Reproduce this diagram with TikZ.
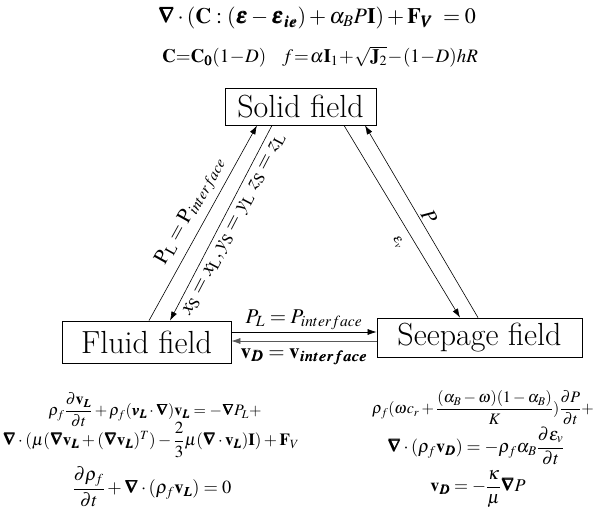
\documentclass[tikz,border=0pt]{standalone}
\usepackage{amsmath}
\usepackage{mathptmx}
\usepackage{bm}
\usetikzlibrary{arrows.meta,positioning,calc}

\begin{document}
\begin{tikzpicture}[x=1pt,y=1pt,
  field/.style={draw,line width=0.8pt,inner sep=0pt,font=\fontsize{32}{34}\selectfont},
  link/.style={-{Latex[length=9pt,width=6pt]},line width=0.6pt},
  lbl/.style={font=\fontsize{21}{24}\selectfont,inner sep=2pt},
  eqn/.style={font=\fontsize{22}{26}\selectfont,inner sep=0pt},
  eqs/.style={font=\fontsize{16}{19}\selectfont,inner sep=0pt}]
  \useasboundingbox (0,0) rectangle (605,-521);
  % field boxes
  \node[field,minimum width=151pt,minimum height=37pt] (solid) at (300.5,-106.5) {Solid field};
  \node[field,minimum width=169pt,minimum height=42pt] (fluid) at (146.5,-342) {Fluid field};
  \node[field,minimum width=205pt,minimum height=39pt] (seep) at (479.5,-337.5) {Seepage field};
  % fluid <-> solid
  \draw[link] ([xshift=2.5pt]fluid.north) -- ([xshift=-43.5pt]solid.south)
    node[lbl,pos=0.52,sloped,above=4pt] {$\mathrm{P_L} = \mathrm{P}_{interface}$};
  \draw[link] ([xshift=-28.5pt]solid.south) -- ([xshift=23.5pt]fluid.north)
    node[lbl,pos=0.48,sloped,below=4pt] {$x_\mathrm{S} = x_\mathrm{L}, y_\mathrm{S} = y_\mathrm{L}\ z_\mathrm{S} = z_\mathrm{L}$};
  % solid <-> seepage
  \draw[link] ([xshift=43.5pt]solid.south) -- ([xshift=-19.5pt]seep.north)
    node[font=\fontsize{14}{16}\selectfont,pos=0.57,sloped,below=6pt] {$\varepsilon_v$};
  \draw[link] ([xshift=-1.5pt]seep.north) -- ([xshift=64.5pt]solid.south)
    node[lbl,midway,sloped,above] {$P$};
  % fluid <-> seepage
  \draw[link] ([yshift=10pt]fluid.east) -- ([yshift=10pt]fluid.east -| seep.west)
    node[lbl,midway,above] {$P_L = P_{interface}$};
  \draw[link,gray!70!black] ([yshift=1pt]fluid.east -| seep.west) -- ([yshift=1pt]fluid.east)
    node[lbl,midway,below=5pt,text=black] {$\mathbf{v}_{\bm{D}} = \mathbf{v}_{\bm{interface}}$};
  % solid equations
  \node[eqn] (eqsolida) at (317,-18) {$\bm{\nabla}\cdot(\mathbf{C}:(\bm{\varepsilon}-\bm{\varepsilon}_{\bm{ie}})+\alpha_B P\mathbf{I})+\mathbf{F}_{\bm{V}}\; = 0$};
  \node[eqn,font=\fontsize{19}{23}\selectfont] (eqsolidb) at (320,-57) {\medmuskip=0.5mu\thickmuskip=1mu$\mathbf{C}{=}\mathbf{C}_{\bm{0}}(1-D)\hspace{16pt} f=\alpha\mathbf{I}_1+\sqrt{\mathbf{J}_2}-(1-D)hR$};
  % fluid equations
  \node[eqs] (eqfluida) at (155,-410) {$\rho_f\dfrac{\partial\mathbf{v}_{\bm{L}}}{\partial t}+\rho_f(\bm{v}_{\bm{L}}\cdot\bm{\nabla})\mathbf{v}_{\bm{L}} = -\bm{\nabla}P_L +$};
  \node[eqs,font=\fontsize{17}{20}\selectfont] (eqfluidb) at (151,-440) {$\bm{\nabla}\cdot(\mu(\bm{\nabla}\mathbf{v}_{\bm{L}}+(\bm{\nabla}\mathbf{v}_{\bm{L}})^T)-\dfrac{2}{3}\mu(\bm{\nabla}\cdot\mathbf{v}_{\bm{L}})\mathbf{I})+\mathbf{F}_V$};
  \node[eqs,font=\fontsize{18.5}{22}\selectfont] (eqfluidc) at (152,-487) {$\dfrac{\partial\rho_f}{\partial t}+\bm{\nabla}\cdot(\rho_f\mathbf{v}_{\bm{L}})=0$};
  % seepage equations
  \node[eqs] (eqseepa) at (483,-408) {$\rho_f(\omega c_r+\dfrac{(\alpha_B-\omega)(1-\alpha_B)}{K})\dfrac{\partial P}{\partial t}+$};
  \node[eqs,font=\fontsize{18}{21}\selectfont] (eqseepb) at (476,-446) {$\bm{\nabla}\cdot(\rho_f\mathbf{v}_{\bm{D}})=-\rho_f\alpha_B\dfrac{\partial\varepsilon_v}{\partial t}$};
  \node[eqs,font=\fontsize{18}{21}\selectfont] (eqseepc) at (478,-489) {$\mathbf{v}_{\bm{D}}=-\dfrac{\kappa}{\mu}\bm{\nabla}P$};
\end{tikzpicture}
\end{document}
